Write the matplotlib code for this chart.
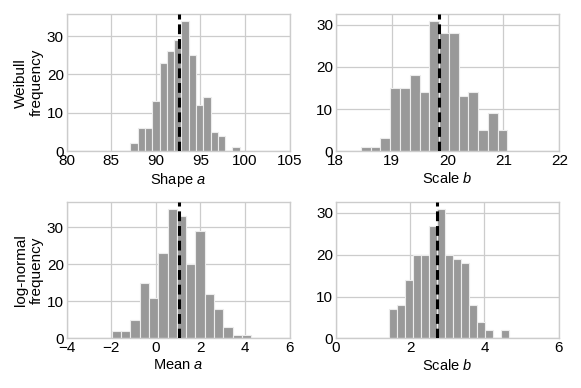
import numpy as np
import matplotlib
matplotlib.use('Agg')
import matplotlib.pyplot as plt

plt.rcParams['font.family'] = ['Liberation Sans', 'DejaVu Sans']
plt.rcParams['mathtext.fontset'] = 'custom'
plt.rcParams['mathtext.it'] = 'Liberation Sans:italic'

# histogram counts (15 bins each)
weib_shape_counts = [2, 6, 6, 13, 23, 26, 29, 34, 25, 12, 14, 5, 4, 0, 1]
weib_shape_range = (87.14, 99.40)
weib_shape_mean = 92.64

weib_scale_counts = [1, 1, 3, 15, 15, 18, 14, 31, 28, 28, 13, 14, 5, 9, 5]
weib_scale_range = (18.45, 21.07)
weib_scale_mean = 19.85

logn_mean_counts = [2, 2, 5, 15, 11, 23, 35, 33, 20, 29, 12, 8, 3, 1, 1]
logn_mean_range = (-1.985, 4.28)
logn_mean_mean = 1.03

logn_scale_counts = [7, 8, 14, 20, 20, 27, 31, 20, 19, 18, 8, 4, 2, 0, 2]
logn_scale_range = (1.444, 4.655)
logn_scale_mean = 2.735

panels = [
    (weib_shape_counts, weib_shape_range, weib_shape_mean, (80, 105), [80, 85, 90, 95, 100, 105], 'Shape $a$', 'Weibull\nfrequency'),
    (weib_scale_counts, weib_scale_range, weib_scale_mean, (18, 22), [18, 19, 20, 21, 22], 'Scale $b$', None),
    (logn_mean_counts, logn_mean_range, logn_mean_mean, (-4, 6), [-4, -2, 0, 2, 4, 6], 'Mean $a$', 'log-normal\nfrequency'),
    (logn_scale_counts, logn_scale_range, logn_scale_mean, (0, 6), [0, 2, 4, 6], 'Scale $b$', None),
]

fig = plt.figure(figsize=(5.81, 3.88), dpi=100)
positions = [
    [0.1148, 0.6108, 0.3838, 0.3524],
    [0.578, 0.6108, 0.3847, 0.3524],
    [0.1148, 0.128, 0.3838, 0.3505],
    [0.578, 0.128, 0.3838, 0.3505],
]

for pos, (counts, rng, mean, xlim, xticks, xlabel, ylabel) in zip(positions, panels):
    ax = fig.add_axes(pos)
    edges = np.linspace(rng[0], rng[1], len(counts) + 1)
    ax.bar(edges[:-1], counts, width=np.diff(edges), align='edge',
           color='#999999', edgecolor='#ececec', linewidth=0.8, zorder=2)
    ax.axvline(mean, color='black', linestyle='--', linewidth=2.2, zorder=3,
               dashes=(3.2, 1.6))
    ax.set_xlim(xlim)
    ax.set_xticks(xticks)
    ax.set_ylim(0, max(counts) * 1.05)
    ax.set_yticks([0, 10, 20, 30])
    ax.grid(True, color='#cccccc', linewidth=0.9, zorder=0)
    ax.set_axisbelow(True)
    for s in ax.spines.values():
        s.set_color('#cccccc')
        s.set_linewidth(1.0)
    ax.tick_params(length=0, labelsize=11, pad=2)
    ax.set_xlabel(xlabel, fontsize=10.5, labelpad=2)
    if ylabel:
        ax.set_ylabel(ylabel, fontsize=11, labelpad=2)

fig.savefig('out.png', dpi=100)
